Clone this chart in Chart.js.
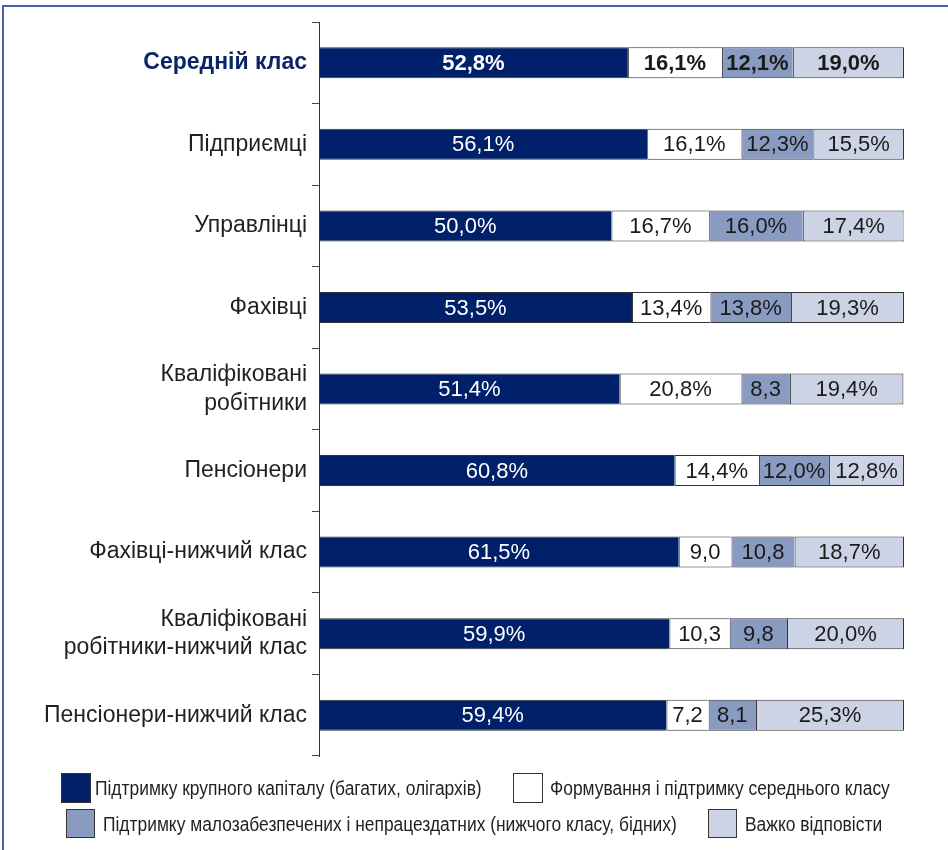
<!DOCTYPE html>
<html>
<head>
<meta charset="utf-8">
<script src="https://cdn.jsdelivr.net/npm/chart.js@4.4.1/dist/chart.umd.min.js"></script>
<style>
  html, body { margin: 0; padding: 0; background: #fff; }
  #wrap { position: relative; width: 948px; height: 850px; }
  canvas { display: block; }
</style>
</head>
<body>
<div id="wrap"><canvas id="chart" width="948" height="850"></canvas></div>
<script>
// Groups (rows of the chart)
const categories = [
  'Середній клас',
  'Підприємці',
  'Управлінці',
  'Фахівці',
  ['Кваліфіковані', 'робітники'],
  'Пенсіонери',
  'Фахівці-нижчий клас',
  ['Кваліфіковані', 'робітники-нижчий клас'],
  'Пенсіонери-нижчий клас'
];

// Series names
const seriesNames = [
  'Підтримку крупного капіталу (багатих, олігархів)',
  'Формування і підтримку середнього класу',
  'Підтримку малозабезпечених і непрацездатних (нижчого класу, бідних)',
  'Важко відповісти'
];

// Shares, %
const bigCapital  = [52.8, 56.1, 50.0, 53.5, 51.4, 60.8, 61.5, 59.9, 59.4];
const middleClass = [16.1, 16.1, 16.7, 13.4, 20.8, 14.4,  9.0, 10.3,  7.2];
const lowerClass  = [12.1, 12.3, 16.0, 13.8,  8.3, 12.0, 10.8,  9.8,  8.1];
const hardToSay   = [19.0, 15.5, 17.4, 19.3, 19.4, 12.8, 18.7, 20.0, 25.3];

// Cells printed as a bare number, without the percent sign
const bareMiddle = [false, false, false, false, false, false, true, true, true];
const bareLower  = [false, false, false, false, true,  false, true, true, true];

const FILLS = ['#00206a', '#ffffff', '#8a9bc2', '#ccd3e4'];
const TEXTS = ['#ffffff', '#1a1a1a', '#1a1a1a', '#1a1a1a'];
const EDGE = '#333333';
const FONT = '"Liberation Sans", Arial, Helvetica, sans-serif';

const seriesValues = [bigCapital, middleClass, lowerClass, hardToSay];
const seriesBare = [null, bareMiddle, bareLower, null];

const datasets = seriesValues.map((vals, i) => ({
  label: seriesNames[i],
  data: vals,
  backgroundColor: FILLS[i],
  borderColor: EDGE,
  borderWidth: { top: 1, bottom: 1, left: 1, right: i === seriesValues.length - 1 ? 1 : 0 },
  borderSkipped: false,
  barPercentage: 0.38,
  categoryPercentage: 1.0
}));

function fmt(v, bare) {
  return v.toFixed(1).replace('.', ',') + (bare ? '' : '%');
}

// Value labels centred inside every segment
const valueLabels = {
  id: 'valueLabels',
  afterDatasetsDraw(chart) {
    const ctx = chart.ctx;
    ctx.save();
    ctx.textAlign = 'center';
    ctx.textBaseline = 'middle';
    chart.data.datasets.forEach((ds, di) => {
      const meta = chart.getDatasetMeta(di);
      meta.data.forEach((bar, idx) => {
        const bare = seriesBare[di] ? seriesBare[di][idx] : false;
        const txt = fmt(ds.data[idx], bare);
        ctx.font = (idx === 0 ? 'bold ' : '') + '22px ' + FONT;
        ctx.fillStyle = TEXTS[di];
        const cx = (bar.x + bar.base) / 2;
        ctx.fillText(txt, cx, bar.y + 1);
      });
    });
    ctx.restore();
  }
};

// Two-row legend and the page frame
const legendAndFrame = {
  id: 'legendAndFrame',
  afterDraw(chart) {
    const ctx = chart.ctx;
    ctx.save();
    // frame
    ctx.strokeStyle = '#4562ab';
    ctx.lineWidth = 2;
    ctx.beginPath();
    ctx.moveTo(3, 850);
    ctx.lineTo(3, 6);
    ctx.lineTo(948, 6);
    ctx.stroke();

    const items = [
      { box: [61, 773, 30, 30], tx: 95,  ty: 789 },
      { box: [513, 773, 30, 30], tx: 550, ty: 789 },
      { box: [66, 809, 29, 29], tx: 103, ty: 825 },
      { box: [708, 809, 29, 29], tx: 745, ty: 825 }
    ];
    const narrow = 0.87;
    items.forEach((it, i) => {
      const [x, y, w, h] = it.box;
      ctx.fillStyle = FILLS[i];
      ctx.fillRect(x, y, w, h);
      ctx.strokeStyle = EDGE;
      ctx.lineWidth = 1;
      ctx.strokeRect(x + 0.5, y + 0.5, w - 1, h - 1);
      ctx.save();
      ctx.translate(it.tx, it.ty);
      ctx.scale(narrow, 1);
      ctx.font = '20px ' + FONT;
      ctx.fillStyle = '#231f20';
      ctx.textAlign = 'left';
      ctx.textBaseline = 'middle';
      ctx.fillText(seriesNames[i], 0, 0);
      ctx.restore();
    });
    ctx.restore();
  }
};

new Chart(document.getElementById('chart'), {
  type: 'bar',
  data: { labels: categories, datasets },
  options: {
    indexAxis: 'y',
    responsive: false,
    animation: false,
    events: [],
    layout: { padding: { top: 22, bottom: 94, left: 0, right: 44 } },
    plugins: {
      legend: { display: false },
      tooltip: { enabled: false },
      title: { display: false }
    },
    scales: {
      x: { display: false, stacked: true, min: 0, max: 100 },
      y: {
        stacked: true,
        afterFit(scale) { scale.width = 319; },
        border: { display: true, color: '#333333', width: 1 },
        grid: {
          offset: true,
          drawOnChartArea: false,
          drawTicks: true,
          tickLength: 7,
          color: '#444444',
          lineWidth: 1
        },
        ticks: {
          padding: 5,
          autoSkip: false,
          color: (c) => c.index === 0 ? '#0b2468' : '#231f20',
          font: (c) => ({
            family: FONT,
            size: 23,
            weight: c.index === 0 ? 'bold' : 'normal',
            lineHeight: 1.25
          })
        }
      }
    }
  },
  plugins: [valueLabels, legendAndFrame]
});
</script>
</body>
</html>
